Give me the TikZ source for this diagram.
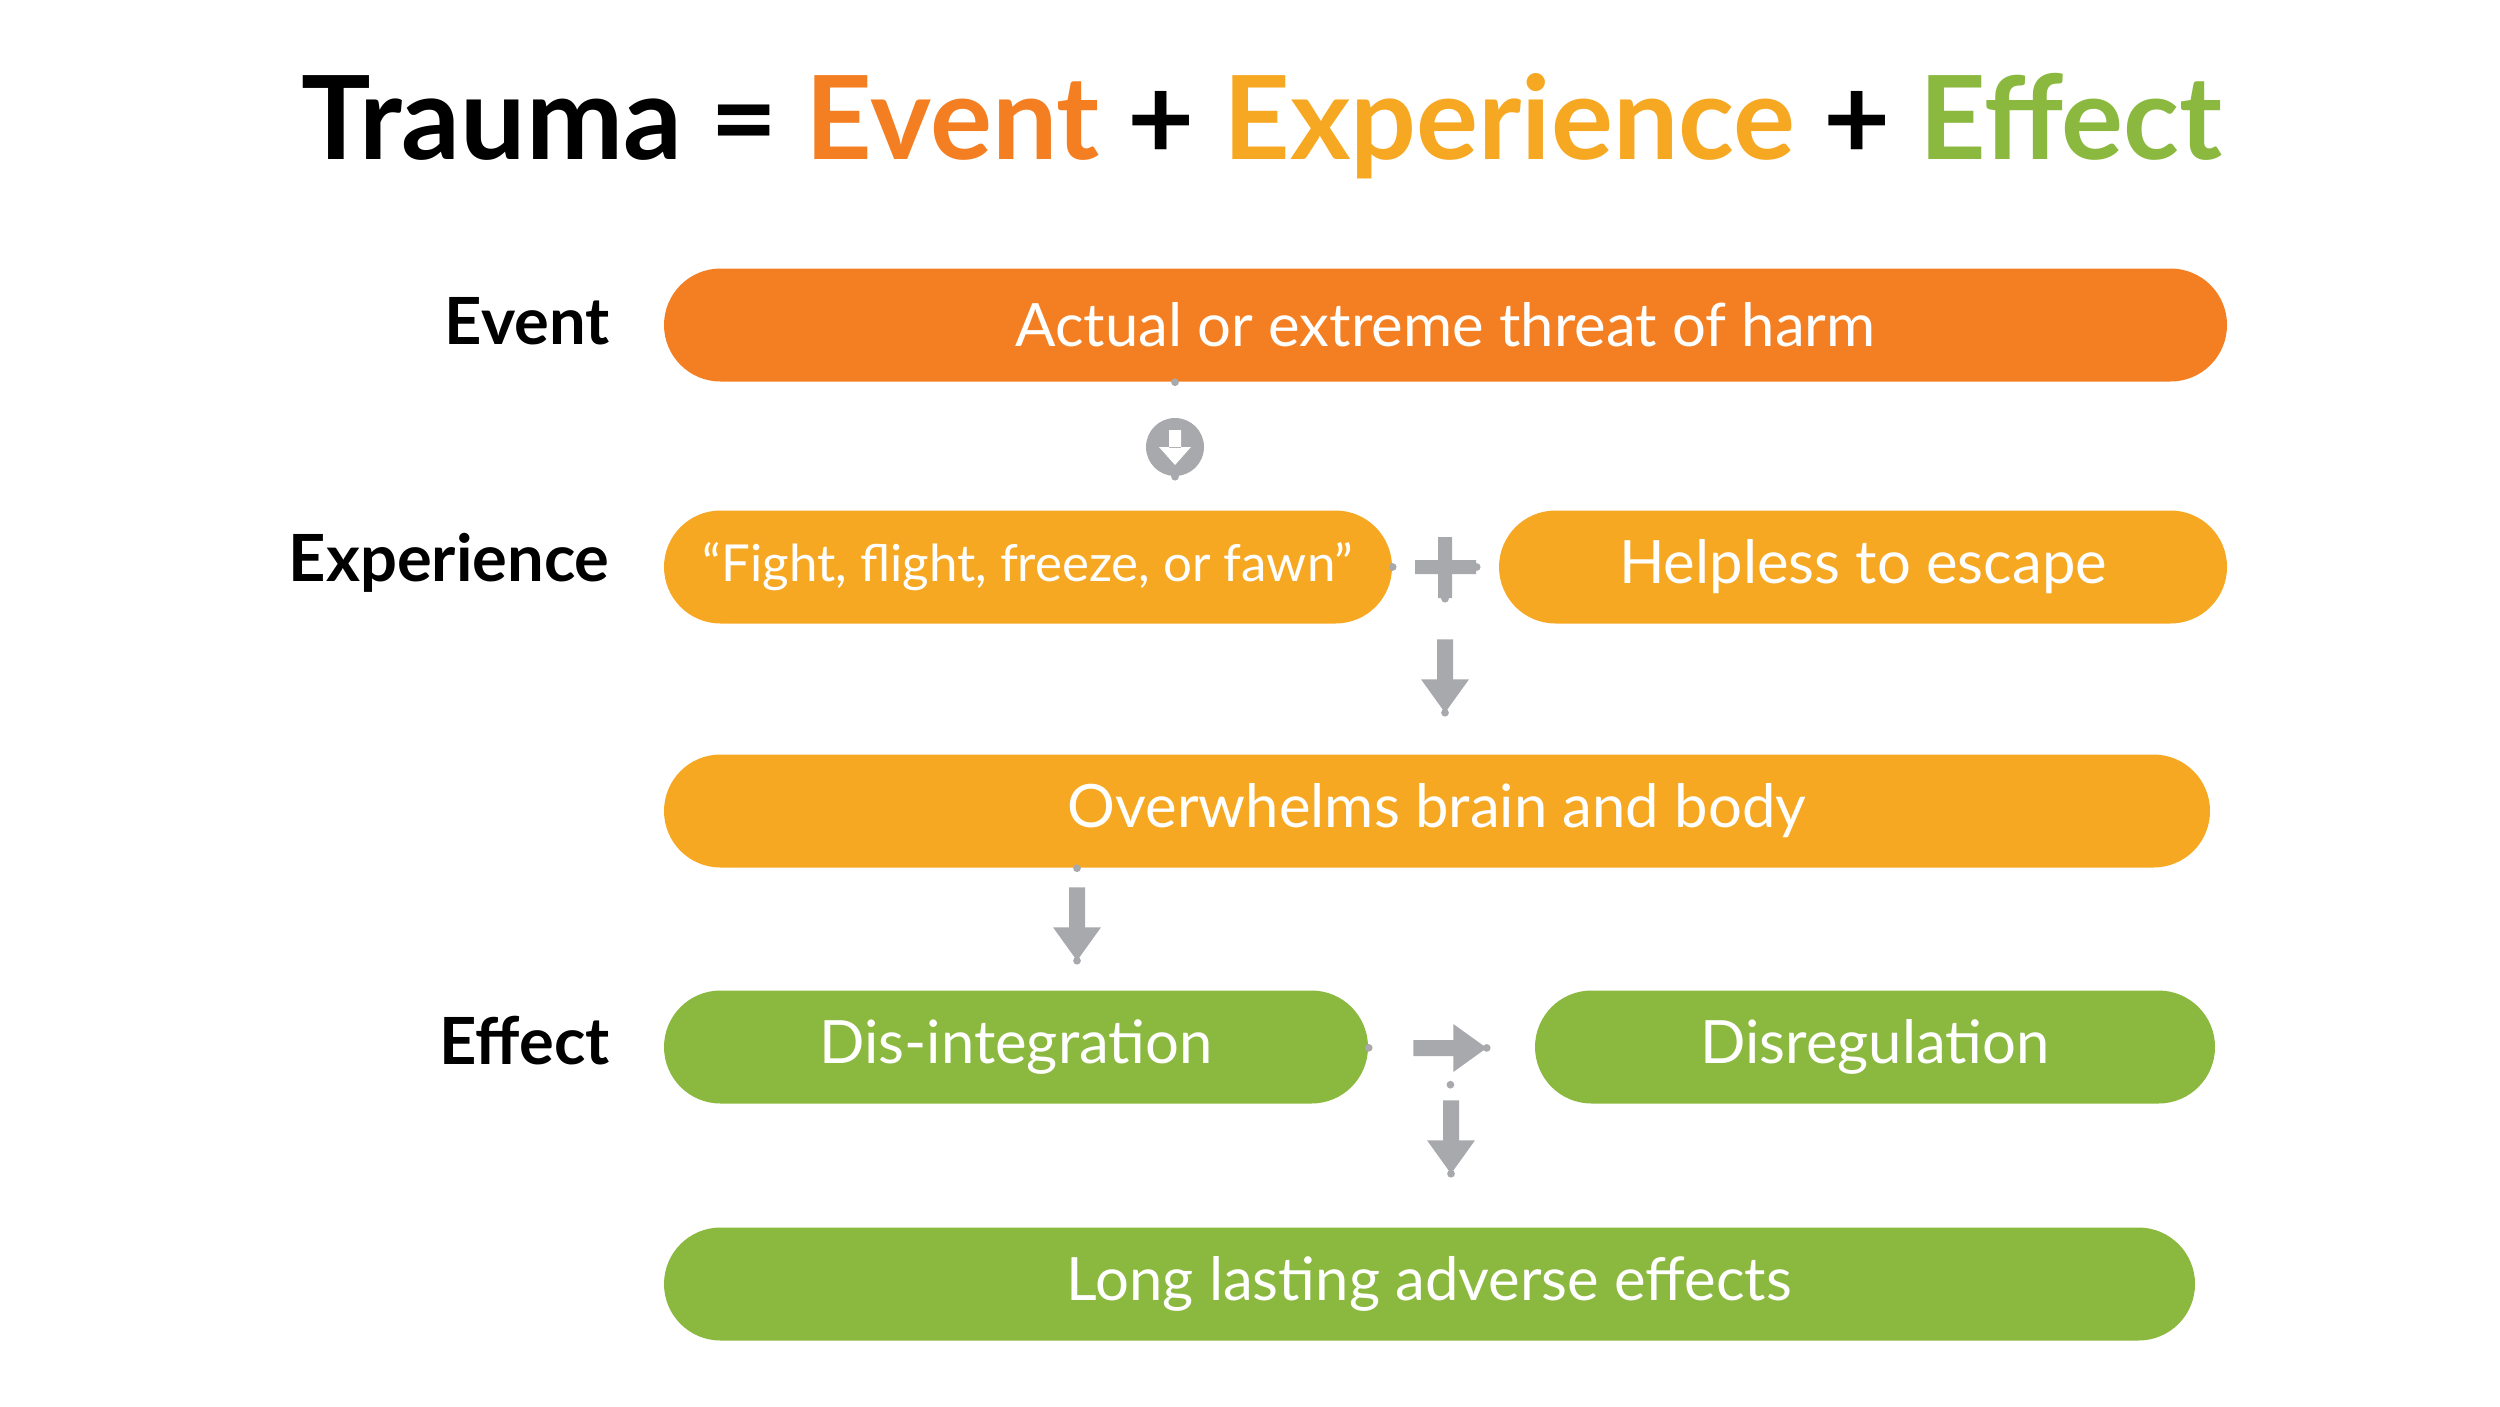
\documentclass[tikz,border=0pt]{standalone}
\usepackage{fontspec}
\setmainfont{Lato}
\definecolor{cOr}{HTML}{F37F22}
\definecolor{cYe}{HTML}{F7A823}
\definecolor{cGr}{HTML}{8BB83F}
\definecolor{cGy}{HTML}{A7A9AC}
\begin{document}
\begin{tikzpicture}[x=0.01cm,y=-0.01cm,
  pill/.style={rounded corners=56.5*0.01cm,minimum height=113*0.01cm,text=white,font=\fontsize{17}{20}\selectfont,inner sep=0pt},
  lab/.style={anchor=east,font=\bfseries\fontsize{18.5}{22}\selectfont},
  blk/.style={inner sep=0pt,minimum width=72*0.01cm,minimum height=72*0.01cm},
  dot/.style={cGy,line width=2.2pt,dash pattern=on 0pt off 18pt,line cap=round}]
\useasboundingbox (0,0) rectangle (2500,1406);
\node[font=\bfseries\fontsize{33}{38}\selectfont] (title) at (1262,126) {Trauma = \textcolor{cOr}{Event} + \textcolor{cYe}{Experience} + \textcolor{cGr}{Effect}};
\node[lab] (lev) at (622,321) {Event};
\node[lab] (lex) at (622,563) {Experience};
\node[lab] (lef) at (622,1041) {Effect};
\node[pill,fill=cOr,minimum width=1563*0.01cm] (ev) at (1445.5,325) {Actual or extreme threat of harm};
\node[pill,fill=cYe,minimum width=728*0.01cm,font=\fontsize{14.5}{18}\selectfont] (ff) at (1028,567) {“Fight, flight, freeze, or fawn”};
\node[pill,fill=cYe,minimum width=728*0.01cm] (hl) at (1863,567) {Helpless to escape};
\node[pill,fill=cYe,minimum width=1546*0.01cm] (ov) at (1437,811) {Overwhelms brain and body};
\node[pill,fill=cGr,minimum width=704*0.01cm] (di) at (1016,1047) {Dis-integration};
\node[pill,fill=cGr,minimum width=680*0.01cm] (dr) at (1875,1047) {Disregulation};
\node[pill,fill=cGr,minimum width=1531*0.01cm] (ll) at (1429.5,1284) {Long lasting adverse effects};
% circle arrow
\node[circle,fill=cGy,minimum size=58*0.01cm,inner sep=0pt] (c1) at (1175,447) {};
\fill[white] (1169,430) rectangle (1181,448) (1159,447) -- (1191,447) -- (1175,465) -- cycle;
% plus
\node[inner sep=0pt,minimum size=62*0.01cm] (pl) at (1445,567) {};
\fill[cGy] (1438,537) rectangle (1452,598) (1415,560) rectangle (1476,574);
% block arrows
\node[blk] (a1) at (1445,676) {};
\node[blk] (a2) at (1077,924) {};
\node[blk] (a3) at (1450,1048) {};
\node[blk] (a4) at (1451,1137) {};
\foreach \a in {a1,a2,a4}{
  \fill[cGy] ([xshift=-8*0.01cm]\a.north) -- ([xshift=8*0.01cm]\a.north) -- ([xshift=8*0.01cm,yshift=-40*0.01cm]\a.north)
    -- ([xshift=24*0.01cm,yshift=-40*0.01cm]\a.north) -- (\a.south) -- ([xshift=-24*0.01cm,yshift=-40*0.01cm]\a.north)
    -- ([xshift=-8*0.01cm,yshift=-40*0.01cm]\a.north) -- cycle;}
\fill[cGy] ([yshift=8*0.01cm]a3.west) -- ([yshift=-8*0.01cm]a3.west) -- ([xshift=40*0.01cm,yshift=-8*0.01cm]a3.west)
  -- ([xshift=40*0.01cm,yshift=-24*0.01cm]a3.west) -- (a3.east) -- ([xshift=40*0.01cm,yshift=24*0.01cm]a3.west)
  -- ([xshift=40*0.01cm,yshift=8*0.01cm]a3.west) -- cycle;
\draw[dot] (ev.south -| c1) -- (c1);
\draw[dot] (c1) -- (ff.north -| c1);
\draw[dot] (ff) -- (pl);
\draw[dot] (pl) -- (hl);
\draw[dot] (pl) -- (a1);
\draw[dot] (a1) -- (ov.north -| a1);
\draw[dot] (ov.south -| a2) -- (a2);
\draw[dot] (a2) -- (di.north -| a2);
\draw[dot] (di) -- (a3);
\draw[dot] (a3) -- (dr);
\draw[dot] (a3) -- (a4);
\draw[dot] (a4) -- (ll.north -| a4);
\end{tikzpicture}
\end{document}
